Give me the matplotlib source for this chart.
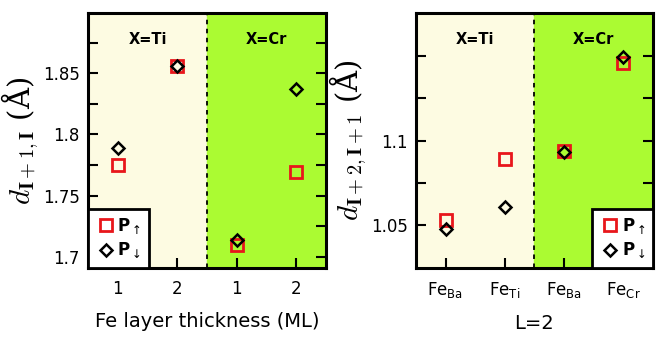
import matplotlib
matplotlib.use("Agg")
import matplotlib.pyplot as plt
from matplotlib.ticker import FixedLocator, FixedFormatter
import numpy as np

plt.rcParams["font.family"] = ["DejaVu Sans"]
plt.rcParams["mathtext.fontset"] = "dejavusans"

# interlayer distances (Angstrom), X=Ti block then X=Cr block
thick_labels = ["1", "2", "1", "2"]
d1_up = [1.775, 1.856, 1.710, 1.769]
d1_dn = [1.789, 1.856, 1.714, 1.837]

site_labels = [r"Fe$_{\mathrm{Ba}}$", r"Fe$_{\mathrm{Ti}}$", r"Fe$_{\mathrm{Ba}}$", r"Fe$_{\mathrm{Cr}}$"]
d2_up = [1.0535, 1.089, 1.094, 1.1455]
d2_dn = [1.048, 1.0607, 1.0935, 1.1489]

regions = ["X=Ti", "X=Cr"]
light = "#fdfbe2"
green = "#abfb32"

fig = plt.figure(figsize=(6.57, 3.37), dpi=100)
ax1 = fig.add_axes([0.134, 0.205, 0.362, 0.756])
ax2 = fig.add_axes([0.633, 0.205, 0.361, 0.756])


def panel(ax, up, dn, xlabels, ylim, yticks, ylab, shown, legend_loc, xlabel):
    x = np.arange(1, len(up) + 1)
    ax.axvspan(0.5, 2.5, color=light, zorder=0)
    ax.axvspan(2.5, 4.5, color=green, zorder=0)
    ax.axvline(2.5, color="black", ls=(0, (2.5, 2.5)), lw=1.3, zorder=1)
    ax.plot(x, up, ls="none", marker="s", ms=9, mfc="none", mec="#e8161b", mew=2,
            label=r"P$_{\uparrow}$", zorder=3)
    ax.plot(x, dn, ls="none", marker="D", ms=6, mfc="none", mec="black", mew=1.8,
            label=r"P$_{\downarrow}$", zorder=4)
    ax.set_xlim(0.5, 4.5)
    ax.set_ylim(*ylim)
    ax.set_xticks(x)
    ax.set_xticklabels(xlabels, fontsize=14.5)
    ax.yaxis.set_major_locator(FixedLocator(yticks))
    ax.yaxis.set_major_formatter(FixedFormatter(
        [("%g" % t) if t in shown else "" for t in yticks]))
    ax.tick_params(direction="in", length=7, width=1.5, labelsize=12,
                   left=True, right=True, top=False)
    ax.tick_params(axis="y", pad=6)
    ax.tick_params(axis="x", pad=9)
    for s in ax.spines.values():
        s.set_linewidth(2.2)
    ax.set_ylabel(ylab, fontsize=21, family="DejaVu Serif", math_fontfamily="cm",
                  labelpad=1)
    ax.set_xlabel(xlabel, fontsize=14, labelpad=10)
    for xc, name in zip([1.5, 3.5], regions):
        ax.text(xc, 0.895, name, transform=ax.get_xaxis_transform(),
                ha="center", va="center", fontsize=10.5, fontweight="bold")
    leg = ax.legend(loc=legend_loc, borderaxespad=0, fancybox=False, framealpha=1,
                    edgecolor="black", handletextpad=0.1, handlelength=1.2,
                    borderpad=0.45, labelspacing=0.3,
                    prop={"size": 12, "weight": "bold"})
    leg.get_frame().set_linewidth(2)
    leg.set_zorder(5)


panel(ax1, d1_up, d1_dn, thick_labels, (1.691, 1.899),
      [1.7, 1.725, 1.75, 1.775, 1.8, 1.825, 1.85, 1.875],
      r"$d_{\mathbf{I+1,I}}$ (Å)", [1.7, 1.75, 1.8, 1.85],
      "lower left", "Fe layer thickness (ML)")
panel(ax2, d2_up, d2_dn, site_labels, (1.025, 1.175),
      [1.05, 1.075, 1.1, 1.125, 1.15],
      r"$d_{\mathbf{I+2,I+1}}$ (Å)", [1.05, 1.1],
      "lower right", "L=2")

fig.savefig("out.png", dpi=100)
